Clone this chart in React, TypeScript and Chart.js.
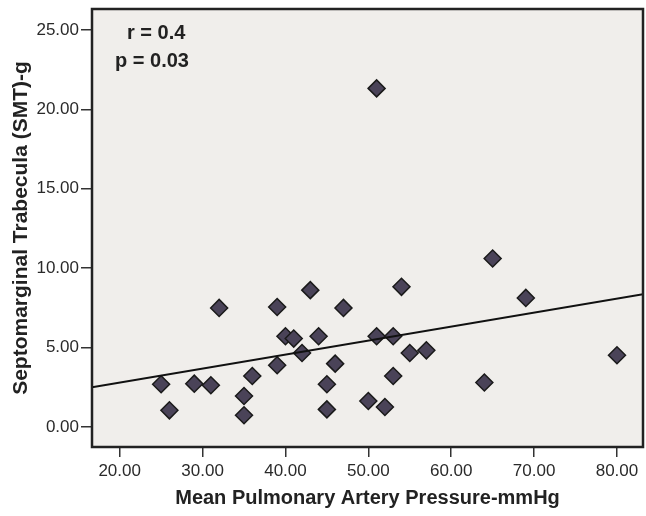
import React, { useEffect, useRef } from "react";
import { Chart, registerables } from "chart.js";

Chart.register(...registerables);

const pressure = [25, 26, 29, 31, 32, 35, 35, 36, 39, 39, 40, 41, 42, 43, 44, 45, 45, 46, 47, 50, 51, 51, 52, 53, 53, 54, 55, 57, 64, 65, 69, 80];
const smt = [2.68, 1.04, 2.72, 2.62, 7.49, 1.94, 0.73, 3.2, 7.55, 3.88, 5.71, 5.56, 4.65, 8.61, 5.71, 2.68, 1.1, 3.98, 7.49, 1.63, 21.32, 5.71, 1.25, 5.71, 3.2, 8.82, 4.65, 4.82, 2.79, 10.6, 8.12, 4.51];
const fitX = [16.66, 83.14];
const fitY = [2.49, 8.35];
const xTicks = [20, 30, 40, 50, 60, 70, 80];
const yTicks = [0, 5, 10, 15, 20, 25];
const annotations = ["r = 0.4", "p = 0.03"];

const FONT = "'Liberation Sans', Arial, sans-serif";

const frame = {
  id: "frame",
  beforeDatasetsDraw(chart: any) {
    const { ctx, chartArea: a } = chart;
    ctx.save();
    ctx.fillStyle = "#f0eeeb";
    ctx.fillRect(a.left, a.top, a.right - a.left, a.bottom - a.top);
    ctx.restore();
  },
  afterDraw(chart: any) {
    const { ctx, chartArea: a } = chart;
    ctx.save();
    ctx.strokeStyle = "#222222";
    ctx.lineWidth = 2.5;
    ctx.strokeRect(a.left, a.top, a.right - a.left, a.bottom - a.top);
    ctx.fillStyle = "#222222";
    ctx.font = "bold 20px " + FONT;
    ctx.textBaseline = "middle";
    ctx.textAlign = "left";
    ctx.fillText(annotations[0], a.left + 35, a.top + 24);
    ctx.fillText(annotations[1], a.left + 23, a.top + 52);
    ctx.restore();
  },
};

export default function App() {
  const ref = useRef<HTMLCanvasElement>(null);
  useEffect(() => {
    if (!ref.current) return;
    const chart = new Chart(ref.current, {
      type: "scatter",
      data: {
        datasets: [
          {
            type: "line",
            data: fitX.map((x, i) => ({ x, y: fitY[i] })),
            borderColor: "#111111",
            borderWidth: 2,
            pointRadius: 0,
            fill: false,
          } as any,
          {
            data: pressure.map((x, i) => ({ x, y: smt[i] })),
            pointStyle: "rectRot",
            pointRadius: 8.5,
            pointBackgroundColor: "#4a4358",
            pointBorderColor: "#1a1a1a",
            pointBorderWidth: 1.5,
          },
        ],
      },
      options: {
        animation: false,
        responsive: false,
        layout: { autoPadding: false, padding: { top: 9, right: 3, left: 0, bottom: 0 } },
        plugins: { legend: { display: false }, tooltip: { enabled: false } },
        scales: {
          x: {
            type: "linear",
            min: 16.66,
            max: 83.14,
            afterBuildTicks: (s: any) => {
              s.ticks = xTicks.map((v) => ({ value: v }));
            },
            afterFit: (s: any) => {
              s.height = 69;
              s.paddingLeft = 0;
              s.paddingRight = 0;
            },
            grid: { display: true, drawOnChartArea: false, drawTicks: true, tickLength: 10, color: "#333333", lineWidth: 1.5 },
            border: { display: false },
            ticks: {
              padding: 4,
              color: "#2a2a2a",
              font: { size: 17, family: FONT },
              callback: (v: any) => Number(v).toFixed(2),
              maxRotation: 0,
            },
            title: {
              display: true,
              text: "Mean Pulmonary Artery Pressure-mmHg",
              color: "#222222",
              font: { size: 20, weight: "bold", family: FONT },
              padding: { top: 0, bottom: 6 },
            },
          },
          y: {
            type: "linear",
            min: -1.27,
            max: 26.32,
            afterBuildTicks: (s: any) => {
              s.ticks = yTicks.map((v) => ({ value: v }));
            },
            afterFit: (s: any) => {
              s.width = 92;
              s.paddingTop = 0;
              s.paddingBottom = 0;
            },
            grid: { display: true, drawOnChartArea: false, drawTicks: true, tickLength: 11, color: "#333333", lineWidth: 1.5 },
            border: { display: false },
            ticks: {
              padding: 2,
              color: "#2a2a2a",
              font: { size: 17, family: FONT },
              callback: (v: any) => Number(v).toFixed(2),
            },
            title: {
              display: true,
              text: "Septomarginal Trabecula (SMT)-g",
              color: "#222222",
              font: { size: 21, weight: "bold", family: FONT },
              padding: { top: 9, bottom: 0 },
            },
          },
        },
      },
      plugins: [frame],
    });
    return () => chart.destroy();
  }, []);
  return (
    <div style={{ position: "absolute", left: 0, top: 0, width: 646, height: 516, background: "#ffffff" }}>
      <canvas ref={ref} width={646} height={516} style={{ display: "block" }} />
    </div>
  );
}
